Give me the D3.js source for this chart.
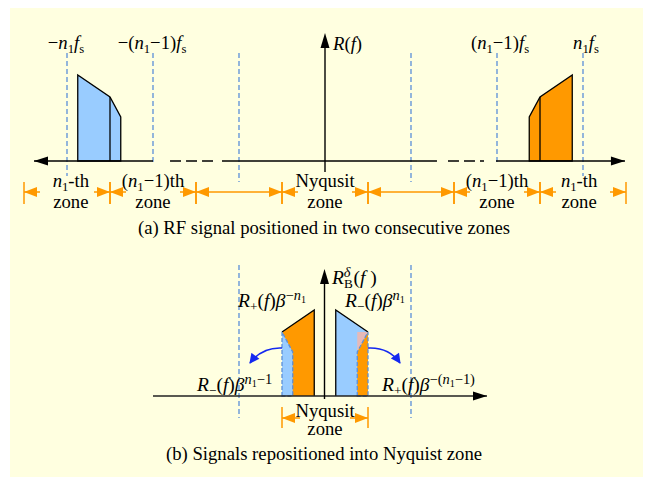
<!DOCTYPE html>
<html><head><meta charset="utf-8">
<script src="https://cdn.jsdelivr.net/npm/d3@7"></script>
<style>
body{margin:0;background:#fff}
svg{display:block}
text{font-family:"Liberation Serif","Times New Roman",serif;fill:#000}
</style>
</head><body>
<svg id="c" width="647" height="478"></svg>
<script>
// ---------------- data (frequencies in units of fs, amplitudes relative) ----------------
const n1 = 3;
const bandFreq = [2.375, 2.5, 2.875];   // positive-frequency band vertices
const bandAmp  = [0.44, 0.64, 0.86];    // spectrum height at those vertices
const multiples = [-3, -2, -1, 1, 2, 3]; // k*fs dashed guides
const zoneCenters = [-3, -2, -1, 0, 1, 2, 3];
const zoneLine1 = [
  [["n","i"],["1","b"],["-th","n"]],
  [["(","n"],["n","i"],["1","b"],["−1)th","n"]],
  null,
  [["Nyqusit","n"]],
  null,
  [["(","n"],["n","i"],["1","b"],["−1)th","n"]],
  [["n","i"],["1","b"],["-th","n"]]
];
const zoneLine2 = ["zone", "zone", null, "zone", null, "zone", "zone"];
const zoneLabelShift = [0.045, 0, 0, 0, 0, 0, -0.045];
const topLabels = [
  {k:-3, segs:[["−","n"],["n","i"],["1","b"],["f","i"],["s","b"]]},
  {k:-2, segs:[["−(","n"],["n","i"],["1","b"],["−1)","n"],["f","i"],["s","b"]]},
  {k: 2, segs:[["(","n"],["n","i"],["1","b"],["−1)","n"],["f","i"],["s","b"]]},
  {k: 3, segs:[["n","i"],["1","b"],["f","i"],["s","b"]]}
];
const axisSolidA  = [[-3.384, -2.0], [-1.198, 1.302], [1.988, 3.488]];
const axisDashedA = [[-1.802, -1.30], [1.430, 1.849]];
const captionA = "(a) RF signal positioned in two consecutive zones";
const captionB = "(b) Signals repositioned into Nyquist zone";
const labelsB = {
  plusUp:   [["R","i"],["+","b"],["(","n"],["f","i"],[")","n"],["β","i"],["−","p"],["n","pi"],["1","q"]],
  minusUp:  [["R","i"],["−","b"],["(","n"],["f","i"],[")","n"],["β","i"],["n","pi"],["1","q"]],
  minusLow: [["R","i"],["−","b"],["(","n"],["f","i"],[")","n"],["β","i"],["n","pi"],["1","q"],["−1","p"]],
  plusLow:  [["R","i"],["+","b"],["(","n"],["f","i"],[")","n"],["β","i"],["−(","p"],["n","pi"],["1","q"],["−1)","p"]],
  axisB:    [["R","i"],["B","b"],["δ","pi",-9],["(","n",3],["f","i"],[" )","n"]]
};

// ---------------- styles ----------------
const ORANGE = "#FF9900", LBLUE = "#99CCFF", PINK = "#E6B9B8",
      GUIDE = "#5B8FD9", ARROWB = "#1428F0", BG = "#FFFFE0";
const FS = 18.7, FSB = 19.5;

const svg = d3.select("#c");
const x  = d3.scaleLinear().domain([0, 1]).range([325, 411]);
const yA = d3.scaleLinear().domain([0, 1]).range([161, 61]);
const yB = d3.scaleLinear().domain([0, 1]).range([396, 296]);
const line = d3.line();

svg.append("rect").attr("x",10).attr("y",8).attr("width",633).attr("height",469).attr("fill",BG);

const defs = svg.append("defs");
defs.append("marker").attr("id","bhead").attr("viewBox","0 0 10 10").attr("refX",9).attr("refY",5)
  .attr("markerWidth",11).attr("markerHeight",10).attr("markerUnits","userSpaceOnUse").attr("orient","auto")
  .append("path").attr("d","M0,0L10,5L0,10z").attr("fill",ARROWB);

const styleOf = {
  n:{o:0,s:1,i:false}, i:{o:0,s:1,i:true},
  b:{o:4,s:.68,i:false}, bi:{o:4,s:.68,i:true},
  p:{o:-7,s:.74,i:false}, pi:{o:-7,s:.74,i:true},
  q:{o:-4,s:.52,i:false}
};
function rich(px, py, segs, anchor, size) {
  size = size || FS;
  const t = svg.append("text").attr("x",px).attr("y",py).attr("text-anchor",anchor||"start")
    .style("font-size",size+"px");
  let cur = 0;
  segs.forEach(([s, st, dx]) => {
    const S = styleOf[st];
    const ts = t.append("tspan").text(s).attr("dy", S.o - cur)
      .style("font-size",(size*S.s)+"px").style("font-style", S.i ? "italic" : "normal");
    if (dx) ts.attr("dx", dx);
    cur = S.o;
  });
  return t;
}
function head(tipX, y, dir, color, L, h) {
  svg.append("path").attr("fill",color)
    .attr("d", `M${tipX},${y}L${tipX - dir*L},${y-h}L${tipX - dir*L},${y+h}z`);
}
function hline(x0, x1, y, color, w, dash) {
  const l = svg.append("line").attr("x1",x0).attr("x2",x1).attr("y1",y).attr("y2",y)
    .attr("stroke",color).attr("stroke-width",w);
  if (dash) l.attr("stroke-dasharray",dash);
  return l;
}
function vline(xx, y0, y1, color, w, dash) {
  const l = svg.append("line").attr("x1",xx).attr("x2",xx).attr("y1",y0).attr("y2",y1)
    .attr("stroke",color).attr("stroke-width",w);
  if (dash) l.attr("stroke-dasharray",dash);
  return l;
}

// ================= Panel (a) =================
const guideBottom = {1:182, 2:162, 3:176};
multiples.forEach(k => vline(x(k), 53, guideBottom[Math.abs(k)], GUIDE, 1.3, "5,3"));

const posPts = [[bandFreq[0],0],[bandFreq[0],bandAmp[0]],[bandFreq[1],bandAmp[1]],[bandFreq[2],bandAmp[2]],[bandFreq[2],0]];
const negPts = posPts.map(([f,a]) => [-f,a]);
svg.append("path").attr("d", line(posPts.map(([f,a])=>[x(f),yA(a)]))+"Z")
  .attr("fill",ORANGE).attr("stroke","#000").attr("stroke-width",1.3);
svg.append("path").attr("d", line(negPts.map(([f,a])=>[x(f),yA(a)]))+"Z")
  .attr("fill",LBLUE).attr("stroke","#000").attr("stroke-width",1.3);
[1,-1].forEach(s => vline(x(s*bandFreq[1]), yA(0), yA(bandAmp[1]), "#000", 1.3));

axisSolidA.forEach(([a,b]) => hline(x(a), x(b), yA(0), "#000", 1.4));
axisDashedA.forEach(([a,b]) => hline(x(a), x(b), yA(0), "#000", 1.4, "11,5"));
head(x(axisSolidA[0][0]), yA(0), -1, "#000", 14, 4.5);
head(x(axisSolidA[2][1]), yA(0), 1, "#000", 14, 4.5);
vline(x(0), 172, 40, "#000", 1.4);
svg.append("path").attr("fill","#000").attr("d",`M${x(0)},33L${x(0)-4.5},48L${x(0)+4.5},48z`);
rich(x(0)+8, 50, [["R","i"],["(","n"],["f","i"],[")","n"]], "start");

topLabels.forEach(d => rich(x(d.k) + (d.k<0 ? -1 : 3), 49, d.segs, "middle"));

const zy = 192;
zoneCenters.forEach((c, i) => {
  const xa = x(c-0.5), xb = x(c+0.5);
  [xa, xb].forEach(xx => vline(xx, 182, 204, ORANGE, 1.5));
  if (zoneLine1[i]) {
    hline(xa, xa+16, zy, ORANGE, 1.5);
    hline(xb-16, xb, zy, ORANGE, 1.5);
  } else {
    hline(xa, xb, zy, ORANGE, 1.5);
  }
  head(xa, zy, -1, ORANGE, 13, 5);
  head(xb, zy, 1, ORANGE, 13, 5);
  if (zoneLine1[i]) {
    const cx = x(c + zoneLabelShift[i]);
    rich(cx, 187, zoneLine1[i], "middle");
    rich(cx, 208, [[zoneLine2[i],"n"]], "middle");
  }
});
svg.append("text").attr("x",324).attr("y",234).attr("text-anchor","middle").style("font-size",FS+"px").text(captionA);

// ================= Panel (b) =================
[-1, 1].forEach(k => vline(x(k), 265, 418, GUIDE, 1.3, "5,3"));

const P = pts => line(pts.map(([f,a]) => [x(f), yB(a)]));
const [f0,f1,f2] = bandFreq, [a0,a1,a2] = bandAmp;
svg.append("path").attr("d", P([[f1-n1,0],[f1-n1,a1],[f2-n1,a2],[f2-n1,0]])+"Z").attr("fill",ORANGE);
svg.append("path").attr("d", P([[f1-n1,a1],[f2-n1,a2],[f2-n1,0]])).attr("fill","none").attr("stroke","#000").attr("stroke-width",1.3);
svg.append("path").attr("d", P([[-f1+n1-1,0],[-f1+n1-1,a1],[-f0+n1-1,a0],[-f0+n1-1,0]])+"Z")
  .attr("fill",LBLUE).attr("stroke",GUIDE).attr("stroke-width",1.3).attr("stroke-dasharray","4,2");
svg.append("path").attr("d", P([[-f2+n1,0],[-f2+n1,a2],[-f1+n1,a1],[-f1+n1,0]])+"Z").attr("fill",LBLUE);
svg.append("path").attr("d", P([[-f2+n1,0],[-f2+n1,a2],[-f1+n1,a1]])).attr("fill","none").attr("stroke","#000").attr("stroke-width",1.3);
svg.append("path").attr("d", P([[f0-n1+1,a1],[f1-n1+1,a1],[f0-n1+1,a0]])+"Z").attr("fill",PINK);
svg.append("path").attr("d", P([[f0-n1+1,0],[f0-n1+1,a0],[f1-n1+1,a1],[f1-n1+1,0]])+"Z")
  .attr("fill",ORANGE).attr("stroke",GUIDE).attr("stroke-width",1.3).attr("stroke-dasharray","4,2");

hline(x(-2), x(1.884), yB(0), "#222", 1.4);
head(x(1.884), yB(0), 1, "#000", 14, 4.5);
vline(x(0)-0.5, 399, 276, "#000", 1.4);
svg.append("path").attr("fill","#000").attr("d",`M${x(0)-0.5},269L${x(0)-5},284L${x(0)+4},284z`);
rich(332, 284, labelsB.axisB, "start", FSB);

svg.append("path").attr("d",`M${x(-0.5)},348Q262,347 250,363`).attr("fill","none")
  .attr("stroke",ARROWB).attr("stroke-width",1.6).attr("marker-end","url(#bhead)");
svg.append("path").attr("d",`M${x(0.5)},348Q389,347 400,363`).attr("fill","none")
  .attr("stroke",ARROWB).attr("stroke-width",1.6).attr("marker-end","url(#bhead)");

rich(238, 307, labelsB.plusUp, "start", FSB);
rich(345, 307, labelsB.minusUp, "start", FSB);
rich(197, 391, labelsB.minusLow, "start", FSB);
rich(382, 391, labelsB.plusLow, "start", FSB);

const ny = 418;
[x(-0.5), x(0.5)].forEach(xx => vline(xx, 407, 428, ORANGE, 1.5));
hline(x(-0.5), x(-0.5)+18, ny, ORANGE, 1.5);
hline(x(0.5)-18, x(0.5), ny, ORANGE, 1.5);
head(x(-0.5), ny, -1, ORANGE, 13, 5);
head(x(0.5), ny, 1, ORANGE, 13, 5);
rich(x(0), 417, [["Nyqusit","n"]], "middle");
rich(x(0), 435, [["zone","n"]], "middle");
svg.append("text").attr("x",324).attr("y",460).attr("text-anchor","middle").style("font-size",FS+"px").text(captionB);
</script>
</body></html>
